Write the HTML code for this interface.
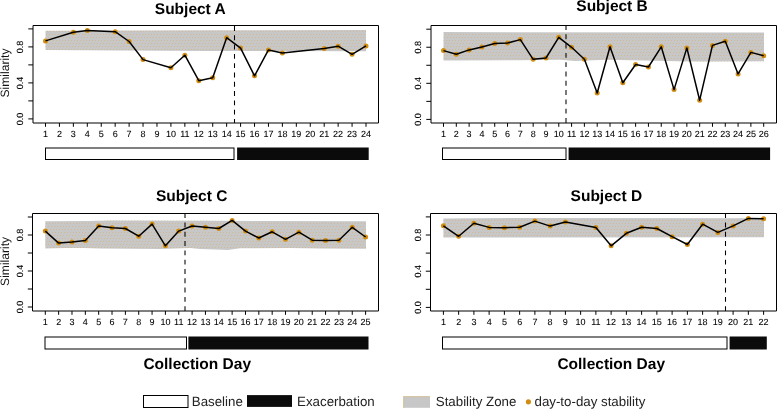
<!DOCTYPE html>
<html><head><meta charset="utf-8"><style>
html,body{margin:0;padding:0;background:#fff;width:777px;height:409px;overflow:hidden}
svg{display:block;will-change:transform}
text{font-family:"Liberation Sans",sans-serif;text-rendering:geometricPrecision}
.tl{font-size:9px;fill:#000;stroke:#000;stroke-width:0.08px}
.tt{font-size:15.5px;font-weight:bold;fill:#000}
.yl{font-size:12.1px;fill:#111}
.lg{font-size:13.3px;fill:#222}
</style></head><body>
<svg width="777" height="409" viewBox="0 0 777 409">
<defs><pattern id="dots" x="0" y="1" width="9" height="9" patternUnits="userSpaceOnUse"><rect x="0" y="0" width="1" height="1" fill="#d6b27c"/><rect x="3" y="0" width="1" height="1" fill="#d6b27c"/><rect x="6" y="0" width="1" height="1" fill="#d6b27c"/><rect x="8" y="3" width="1" height="1" fill="#d6b27c"/><rect x="2" y="3" width="1" height="1" fill="#d6b27c"/><rect x="5" y="3" width="1" height="1" fill="#d6b27c"/><rect x="7" y="6" width="1" height="1" fill="#d6b27c"/><rect x="1" y="6" width="1" height="1" fill="#d6b27c"/><rect x="4" y="6" width="1" height="1" fill="#d6b27c"/></pattern></defs>
<polygon points="45.5,30.8 120,30.6 210,30.2 366,30 366,51.2 210,51 120,50.5 45.5,49.9" fill="#c7c7c7"/>
<polygon points="45.5,30.8 120,30.6 210,30.2 366,30 366,51.2 210,51 120,50.5 45.5,49.9" fill="url(#dots)" opacity="0.7"/>
<path d="M33 25.5H378.5V123" fill="none" stroke="#000" stroke-width="1"/>
<path d="M33 25.5V123H378.5" fill="none" stroke="#000" stroke-width="1"/>
<line x1="28.3" y1="118.9" x2="33" y2="118.9" stroke="#000" stroke-width="1"/>
<line x1="28.3" y1="100.9" x2="33" y2="100.9" stroke="#000" stroke-width="1"/>
<line x1="28.3" y1="82.9" x2="33" y2="82.9" stroke="#000" stroke-width="1"/>
<line x1="28.3" y1="64.9" x2="33" y2="64.9" stroke="#000" stroke-width="1"/>
<line x1="28.3" y1="46.9" x2="33" y2="46.9" stroke="#000" stroke-width="1"/>
<line x1="28.3" y1="28.9" x2="33" y2="28.9" stroke="#000" stroke-width="1"/>
<text transform="translate(22.6,118.9) rotate(-90)" text-anchor="middle" class="tl">0.0</text>
<text transform="translate(22.6,82.9) rotate(-90)" text-anchor="middle" class="tl">0.4</text>
<text transform="translate(22.6,46.9) rotate(-90)" text-anchor="middle" class="tl">0.8</text>
<line x1="45.5" y1="123" x2="45.5" y2="126.8" stroke="#000" stroke-width="1"/>
<text x="45.5" y="137" text-anchor="middle" class="tl">1</text>
<line x1="59.43" y1="123" x2="59.43" y2="126.8" stroke="#000" stroke-width="1"/>
<text x="59.43" y="137" text-anchor="middle" class="tl">2</text>
<line x1="73.37" y1="123" x2="73.37" y2="126.8" stroke="#000" stroke-width="1"/>
<text x="73.37" y="137" text-anchor="middle" class="tl">3</text>
<line x1="87.3" y1="123" x2="87.3" y2="126.8" stroke="#000" stroke-width="1"/>
<text x="87.3" y="137" text-anchor="middle" class="tl">4</text>
<line x1="101.24" y1="123" x2="101.24" y2="126.8" stroke="#000" stroke-width="1"/>
<text x="101.24" y="137" text-anchor="middle" class="tl">5</text>
<line x1="115.17" y1="123" x2="115.17" y2="126.8" stroke="#000" stroke-width="1"/>
<text x="115.17" y="137" text-anchor="middle" class="tl">6</text>
<line x1="129.11" y1="123" x2="129.11" y2="126.8" stroke="#000" stroke-width="1"/>
<text x="129.11" y="137" text-anchor="middle" class="tl">7</text>
<line x1="143.04" y1="123" x2="143.04" y2="126.8" stroke="#000" stroke-width="1"/>
<text x="143.04" y="137" text-anchor="middle" class="tl">8</text>
<line x1="156.98" y1="123" x2="156.98" y2="126.8" stroke="#000" stroke-width="1"/>
<text x="156.98" y="137" text-anchor="middle" class="tl">9</text>
<line x1="170.91" y1="123" x2="170.91" y2="126.8" stroke="#000" stroke-width="1"/>
<text x="170.91" y="137" text-anchor="middle" class="tl">10</text>
<line x1="184.85" y1="123" x2="184.85" y2="126.8" stroke="#000" stroke-width="1"/>
<text x="184.85" y="137" text-anchor="middle" class="tl">11</text>
<line x1="198.78" y1="123" x2="198.78" y2="126.8" stroke="#000" stroke-width="1"/>
<text x="198.78" y="137" text-anchor="middle" class="tl">12</text>
<line x1="212.72" y1="123" x2="212.72" y2="126.8" stroke="#000" stroke-width="1"/>
<text x="212.72" y="137" text-anchor="middle" class="tl">13</text>
<line x1="226.65" y1="123" x2="226.65" y2="126.8" stroke="#000" stroke-width="1"/>
<text x="226.65" y="137" text-anchor="middle" class="tl">14</text>
<line x1="240.59" y1="123" x2="240.59" y2="126.8" stroke="#000" stroke-width="1"/>
<text x="240.59" y="137" text-anchor="middle" class="tl">15</text>
<line x1="254.52" y1="123" x2="254.52" y2="126.8" stroke="#000" stroke-width="1"/>
<text x="254.52" y="137" text-anchor="middle" class="tl">16</text>
<line x1="268.46" y1="123" x2="268.46" y2="126.8" stroke="#000" stroke-width="1"/>
<text x="268.46" y="137" text-anchor="middle" class="tl">17</text>
<line x1="282.39" y1="123" x2="282.39" y2="126.8" stroke="#000" stroke-width="1"/>
<text x="282.39" y="137" text-anchor="middle" class="tl">18</text>
<line x1="296.33" y1="123" x2="296.33" y2="126.8" stroke="#000" stroke-width="1"/>
<text x="296.33" y="137" text-anchor="middle" class="tl">19</text>
<line x1="310.26" y1="123" x2="310.26" y2="126.8" stroke="#000" stroke-width="1"/>
<text x="310.26" y="137" text-anchor="middle" class="tl">20</text>
<line x1="324.2" y1="123" x2="324.2" y2="126.8" stroke="#000" stroke-width="1"/>
<text x="324.2" y="137" text-anchor="middle" class="tl">21</text>
<line x1="338.13" y1="123" x2="338.13" y2="126.8" stroke="#000" stroke-width="1"/>
<text x="338.13" y="137" text-anchor="middle" class="tl">22</text>
<line x1="352.07" y1="123" x2="352.07" y2="126.8" stroke="#000" stroke-width="1"/>
<text x="352.07" y="137" text-anchor="middle" class="tl">23</text>
<line x1="366" y1="123" x2="366" y2="126.8" stroke="#000" stroke-width="1"/>
<text x="366" y="137" text-anchor="middle" class="tl">24</text>
<line x1="234.5" y1="26" x2="234.5" y2="123" stroke="#000" stroke-width="1.05" stroke-dasharray="4.9 4.4"/>
<circle cx="45.5" cy="40.9" r="2.5" fill="#d18d12"/>
<circle cx="73.37" cy="32.3" r="2.5" fill="#d18d12"/>
<circle cx="87.3" cy="30.6" r="2.5" fill="#d18d12"/>
<circle cx="115.17" cy="31.7" r="2.5" fill="#d18d12"/>
<circle cx="129.11" cy="41.5" r="2.5" fill="#d18d12"/>
<circle cx="143.04" cy="59.6" r="2.5" fill="#d18d12"/>
<circle cx="170.91" cy="67.8" r="2.5" fill="#d18d12"/>
<circle cx="184.85" cy="55.2" r="2.5" fill="#d18d12"/>
<circle cx="198.78" cy="80.7" r="2.5" fill="#d18d12"/>
<circle cx="212.72" cy="77.7" r="2.5" fill="#d18d12"/>
<circle cx="226.65" cy="37.7" r="2.5" fill="#d18d12"/>
<circle cx="240.59" cy="48.1" r="2.5" fill="#d18d12"/>
<circle cx="254.52" cy="75.8" r="2.5" fill="#d18d12"/>
<circle cx="268.46" cy="49.9" r="2.5" fill="#d18d12"/>
<circle cx="282.39" cy="53.1" r="2.5" fill="#d18d12"/>
<circle cx="324.2" cy="48.4" r="2.5" fill="#d18d12"/>
<circle cx="338.13" cy="46.2" r="2.5" fill="#d18d12"/>
<circle cx="352.07" cy="54.3" r="2.5" fill="#d18d12"/>
<circle cx="366" cy="45.9" r="2.5" fill="#d18d12"/>
<polyline points="45.5,40.9 73.37,32.3 87.3,30.6 115.17,31.7 129.11,41.5 143.04,59.6 170.91,67.8 184.85,55.2 198.78,80.7 212.72,77.7 226.65,37.7 240.59,48.1 254.52,75.8 268.46,49.9 282.39,53.1 324.2,48.4 338.13,46.2 352.07,54.3 366,45.9" fill="none" stroke="#000" stroke-width="1.5" stroke-linejoin="round"/>
<text x="154.8" y="13.9" class="tt">Subject A</text>
<text transform="translate(9.3,73) rotate(-90)" text-anchor="middle" class="yl">Similarity</text>
<rect x="45.5" y="148" width="188.5" height="11.5" fill="#fff" stroke="#000" stroke-width="1"/>
<rect x="237.1" y="147.5" width="131.6" height="12.5" fill="#0b0b0b"/>
<polygon points="443.5,32.1 764,32.6 764,61.3 705,61.6 680,61.2 606,59.8 575,61 560,59.8 520,60.2 443.5,60.6" fill="#c7c7c7"/>
<polygon points="443.5,32.1 764,32.6 764,61.3 705,61.6 680,61.2 606,59.8 575,61 560,59.8 520,60.2 443.5,60.6" fill="url(#dots)" opacity="0.7"/>
<path d="M431 25.5H776.5V123" fill="none" stroke="#000" stroke-width="1"/>
<path d="M431 25.5V123H776.5" fill="none" stroke="#000" stroke-width="1"/>
<line x1="426.3" y1="119.4" x2="431" y2="119.4" stroke="#000" stroke-width="1"/>
<line x1="426.3" y1="101.36" x2="431" y2="101.36" stroke="#000" stroke-width="1"/>
<line x1="426.3" y1="83.32" x2="431" y2="83.32" stroke="#000" stroke-width="1"/>
<line x1="426.3" y1="65.28" x2="431" y2="65.28" stroke="#000" stroke-width="1"/>
<line x1="426.3" y1="47.24" x2="431" y2="47.24" stroke="#000" stroke-width="1"/>
<line x1="426.3" y1="29.2" x2="431" y2="29.2" stroke="#000" stroke-width="1"/>
<text transform="translate(421.2,119.4) rotate(-90)" text-anchor="middle" class="tl">0.0</text>
<text transform="translate(421.2,83.32) rotate(-90)" text-anchor="middle" class="tl">0.4</text>
<text transform="translate(421.2,47.24) rotate(-90)" text-anchor="middle" class="tl">0.8</text>
<line x1="443.5" y1="123" x2="443.5" y2="126.8" stroke="#000" stroke-width="1"/>
<text x="443.5" y="137" text-anchor="middle" class="tl">1</text>
<line x1="456.31" y1="123" x2="456.31" y2="126.8" stroke="#000" stroke-width="1"/>
<text x="456.31" y="137" text-anchor="middle" class="tl">2</text>
<line x1="469.12" y1="123" x2="469.12" y2="126.8" stroke="#000" stroke-width="1"/>
<text x="469.12" y="137" text-anchor="middle" class="tl">3</text>
<line x1="481.92" y1="123" x2="481.92" y2="126.8" stroke="#000" stroke-width="1"/>
<text x="481.92" y="137" text-anchor="middle" class="tl">4</text>
<line x1="494.73" y1="123" x2="494.73" y2="126.8" stroke="#000" stroke-width="1"/>
<text x="494.73" y="137" text-anchor="middle" class="tl">5</text>
<line x1="507.54" y1="123" x2="507.54" y2="126.8" stroke="#000" stroke-width="1"/>
<text x="507.54" y="137" text-anchor="middle" class="tl">6</text>
<line x1="520.35" y1="123" x2="520.35" y2="126.8" stroke="#000" stroke-width="1"/>
<text x="520.35" y="137" text-anchor="middle" class="tl">7</text>
<line x1="533.16" y1="123" x2="533.16" y2="126.8" stroke="#000" stroke-width="1"/>
<text x="533.16" y="137" text-anchor="middle" class="tl">8</text>
<line x1="545.96" y1="123" x2="545.96" y2="126.8" stroke="#000" stroke-width="1"/>
<text x="545.96" y="137" text-anchor="middle" class="tl">9</text>
<line x1="558.77" y1="123" x2="558.77" y2="126.8" stroke="#000" stroke-width="1"/>
<text x="558.77" y="137" text-anchor="middle" class="tl">10</text>
<line x1="571.58" y1="123" x2="571.58" y2="126.8" stroke="#000" stroke-width="1"/>
<text x="571.58" y="137" text-anchor="middle" class="tl">11</text>
<line x1="584.39" y1="123" x2="584.39" y2="126.8" stroke="#000" stroke-width="1"/>
<text x="584.39" y="137" text-anchor="middle" class="tl">12</text>
<line x1="597.2" y1="123" x2="597.2" y2="126.8" stroke="#000" stroke-width="1"/>
<text x="597.2" y="137" text-anchor="middle" class="tl">13</text>
<line x1="610" y1="123" x2="610" y2="126.8" stroke="#000" stroke-width="1"/>
<text x="610" y="137" text-anchor="middle" class="tl">14</text>
<line x1="622.81" y1="123" x2="622.81" y2="126.8" stroke="#000" stroke-width="1"/>
<text x="622.81" y="137" text-anchor="middle" class="tl">15</text>
<line x1="635.62" y1="123" x2="635.62" y2="126.8" stroke="#000" stroke-width="1"/>
<text x="635.62" y="137" text-anchor="middle" class="tl">16</text>
<line x1="648.43" y1="123" x2="648.43" y2="126.8" stroke="#000" stroke-width="1"/>
<text x="648.43" y="137" text-anchor="middle" class="tl">17</text>
<line x1="661.24" y1="123" x2="661.24" y2="126.8" stroke="#000" stroke-width="1"/>
<text x="661.24" y="137" text-anchor="middle" class="tl">18</text>
<line x1="674.04" y1="123" x2="674.04" y2="126.8" stroke="#000" stroke-width="1"/>
<text x="674.04" y="137" text-anchor="middle" class="tl">19</text>
<line x1="686.85" y1="123" x2="686.85" y2="126.8" stroke="#000" stroke-width="1"/>
<text x="686.85" y="137" text-anchor="middle" class="tl">20</text>
<line x1="699.66" y1="123" x2="699.66" y2="126.8" stroke="#000" stroke-width="1"/>
<text x="699.66" y="137" text-anchor="middle" class="tl">21</text>
<line x1="712.47" y1="123" x2="712.47" y2="126.8" stroke="#000" stroke-width="1"/>
<text x="712.47" y="137" text-anchor="middle" class="tl">22</text>
<line x1="725.28" y1="123" x2="725.28" y2="126.8" stroke="#000" stroke-width="1"/>
<text x="725.28" y="137" text-anchor="middle" class="tl">23</text>
<line x1="738.08" y1="123" x2="738.08" y2="126.8" stroke="#000" stroke-width="1"/>
<text x="738.08" y="137" text-anchor="middle" class="tl">24</text>
<line x1="750.89" y1="123" x2="750.89" y2="126.8" stroke="#000" stroke-width="1"/>
<text x="750.89" y="137" text-anchor="middle" class="tl">25</text>
<line x1="763.7" y1="123" x2="763.7" y2="126.8" stroke="#000" stroke-width="1"/>
<text x="763.7" y="137" text-anchor="middle" class="tl">26</text>
<line x1="566" y1="25" x2="566" y2="123" stroke="#000" stroke-width="1.05" stroke-dasharray="4.9 4.4"/>
<circle cx="443.5" cy="50.6" r="2.5" fill="#d18d12"/>
<circle cx="456.31" cy="54.3" r="2.5" fill="#d18d12"/>
<circle cx="469.12" cy="49.9" r="2.5" fill="#d18d12"/>
<circle cx="481.92" cy="46.9" r="2.5" fill="#d18d12"/>
<circle cx="494.73" cy="43.6" r="2.5" fill="#d18d12"/>
<circle cx="507.54" cy="43" r="2.5" fill="#d18d12"/>
<circle cx="520.35" cy="39.6" r="2.5" fill="#d18d12"/>
<circle cx="533.16" cy="59.3" r="2.5" fill="#d18d12"/>
<circle cx="545.96" cy="58" r="2.5" fill="#d18d12"/>
<circle cx="558.77" cy="37.3" r="2.5" fill="#d18d12"/>
<circle cx="571.58" cy="47.3" r="2.5" fill="#d18d12"/>
<circle cx="584.39" cy="59.2" r="2.5" fill="#d18d12"/>
<circle cx="597.2" cy="93" r="2.5" fill="#d18d12"/>
<circle cx="610" cy="46.8" r="2.5" fill="#d18d12"/>
<circle cx="622.81" cy="82.8" r="2.5" fill="#d18d12"/>
<circle cx="635.62" cy="64.5" r="2.5" fill="#d18d12"/>
<circle cx="648.43" cy="67" r="2.5" fill="#d18d12"/>
<circle cx="661.24" cy="46.8" r="2.5" fill="#d18d12"/>
<circle cx="674.04" cy="89.6" r="2.5" fill="#d18d12"/>
<circle cx="686.85" cy="47.9" r="2.5" fill="#d18d12"/>
<circle cx="699.66" cy="100.2" r="2.5" fill="#d18d12"/>
<circle cx="712.47" cy="45.4" r="2.5" fill="#d18d12"/>
<circle cx="725.28" cy="41.2" r="2.5" fill="#d18d12"/>
<circle cx="738.08" cy="73.9" r="2.5" fill="#d18d12"/>
<circle cx="750.89" cy="52.4" r="2.5" fill="#d18d12"/>
<circle cx="763.7" cy="55.8" r="2.5" fill="#d18d12"/>
<polyline points="443.5,50.6 456.31,54.3 469.12,49.9 481.92,46.9 494.73,43.6 507.54,43 520.35,39.6 533.16,59.3 545.96,58 558.77,37.3 571.58,47.3 584.39,59.2 597.2,93 610,46.8 622.81,82.8 635.62,64.5 648.43,67 661.24,46.8 674.04,89.6 686.85,47.9 699.66,100.2 712.47,45.4 725.28,41.2 738.08,73.9 750.89,52.4 763.7,55.8" fill="none" stroke="#000" stroke-width="1.5" stroke-linejoin="round"/>
<text x="576.3" y="11.1" class="tt">Subject B</text>
<rect x="442.5" y="148" width="123.5" height="11.5" fill="#fff" stroke="#000" stroke-width="1"/>
<rect x="568.6" y="147.5" width="201.5" height="12.5" fill="#0b0b0b"/>
<polygon points="45.3,221.2 90,221 110,220.6 210,220.8 366,221.2 366,248.8 320,248.6 290,247.9 240,248.3 228,249.9 215,249.4 200,249 190,247.9 175,248.4 160,248.9 100,248.4 84,248 65,248 45.3,248.5" fill="#c7c7c7"/>
<polygon points="45.3,221.2 90,221 110,220.6 210,220.8 366,221.2 366,248.8 320,248.6 290,247.9 240,248.3 228,249.9 215,249.4 200,249 190,247.9 175,248.4 160,248.9 100,248.4 84,248 65,248 45.3,248.5" fill="url(#dots)" opacity="0.7"/>
<path d="M32.5 213.5H378.5V311" fill="none" stroke="#000" stroke-width="1"/>
<path d="M32.5 213.5V311H378.5" fill="none" stroke="#000" stroke-width="1"/>
<line x1="27.8" y1="307" x2="32.5" y2="307" stroke="#000" stroke-width="1"/>
<line x1="27.8" y1="289" x2="32.5" y2="289" stroke="#000" stroke-width="1"/>
<line x1="27.8" y1="271" x2="32.5" y2="271" stroke="#000" stroke-width="1"/>
<line x1="27.8" y1="253" x2="32.5" y2="253" stroke="#000" stroke-width="1"/>
<line x1="27.8" y1="235" x2="32.5" y2="235" stroke="#000" stroke-width="1"/>
<line x1="27.8" y1="217" x2="32.5" y2="217" stroke="#000" stroke-width="1"/>
<text transform="translate(22.6,307) rotate(-90)" text-anchor="middle" class="tl">0.0</text>
<text transform="translate(22.6,271) rotate(-90)" text-anchor="middle" class="tl">0.4</text>
<text transform="translate(22.6,235) rotate(-90)" text-anchor="middle" class="tl">0.8</text>
<line x1="45.3" y1="311" x2="45.3" y2="314.8" stroke="#000" stroke-width="1"/>
<text x="45.3" y="325" text-anchor="middle" class="tl">1</text>
<line x1="58.65" y1="311" x2="58.65" y2="314.8" stroke="#000" stroke-width="1"/>
<text x="58.65" y="325" text-anchor="middle" class="tl">2</text>
<line x1="71.99" y1="311" x2="71.99" y2="314.8" stroke="#000" stroke-width="1"/>
<text x="71.99" y="325" text-anchor="middle" class="tl">3</text>
<line x1="85.34" y1="311" x2="85.34" y2="314.8" stroke="#000" stroke-width="1"/>
<text x="85.34" y="325" text-anchor="middle" class="tl">4</text>
<line x1="98.68" y1="311" x2="98.68" y2="314.8" stroke="#000" stroke-width="1"/>
<text x="98.68" y="325" text-anchor="middle" class="tl">5</text>
<line x1="112.03" y1="311" x2="112.03" y2="314.8" stroke="#000" stroke-width="1"/>
<text x="112.03" y="325" text-anchor="middle" class="tl">6</text>
<line x1="125.38" y1="311" x2="125.38" y2="314.8" stroke="#000" stroke-width="1"/>
<text x="125.38" y="325" text-anchor="middle" class="tl">7</text>
<line x1="138.72" y1="311" x2="138.72" y2="314.8" stroke="#000" stroke-width="1"/>
<text x="138.72" y="325" text-anchor="middle" class="tl">8</text>
<line x1="152.07" y1="311" x2="152.07" y2="314.8" stroke="#000" stroke-width="1"/>
<text x="152.07" y="325" text-anchor="middle" class="tl">9</text>
<line x1="165.41" y1="311" x2="165.41" y2="314.8" stroke="#000" stroke-width="1"/>
<text x="165.41" y="325" text-anchor="middle" class="tl">10</text>
<line x1="178.76" y1="311" x2="178.76" y2="314.8" stroke="#000" stroke-width="1"/>
<text x="178.76" y="325" text-anchor="middle" class="tl">11</text>
<line x1="192.1" y1="311" x2="192.1" y2="314.8" stroke="#000" stroke-width="1"/>
<text x="192.1" y="325" text-anchor="middle" class="tl">12</text>
<line x1="205.45" y1="311" x2="205.45" y2="314.8" stroke="#000" stroke-width="1"/>
<text x="205.45" y="325" text-anchor="middle" class="tl">13</text>
<line x1="218.8" y1="311" x2="218.8" y2="314.8" stroke="#000" stroke-width="1"/>
<text x="218.8" y="325" text-anchor="middle" class="tl">14</text>
<line x1="232.14" y1="311" x2="232.14" y2="314.8" stroke="#000" stroke-width="1"/>
<text x="232.14" y="325" text-anchor="middle" class="tl">15</text>
<line x1="245.49" y1="311" x2="245.49" y2="314.8" stroke="#000" stroke-width="1"/>
<text x="245.49" y="325" text-anchor="middle" class="tl">16</text>
<line x1="258.83" y1="311" x2="258.83" y2="314.8" stroke="#000" stroke-width="1"/>
<text x="258.83" y="325" text-anchor="middle" class="tl">17</text>
<line x1="272.18" y1="311" x2="272.18" y2="314.8" stroke="#000" stroke-width="1"/>
<text x="272.18" y="325" text-anchor="middle" class="tl">18</text>
<line x1="285.52" y1="311" x2="285.52" y2="314.8" stroke="#000" stroke-width="1"/>
<text x="285.52" y="325" text-anchor="middle" class="tl">19</text>
<line x1="298.87" y1="311" x2="298.87" y2="314.8" stroke="#000" stroke-width="1"/>
<text x="298.87" y="325" text-anchor="middle" class="tl">20</text>
<line x1="312.22" y1="311" x2="312.22" y2="314.8" stroke="#000" stroke-width="1"/>
<text x="312.22" y="325" text-anchor="middle" class="tl">21</text>
<line x1="325.56" y1="311" x2="325.56" y2="314.8" stroke="#000" stroke-width="1"/>
<text x="325.56" y="325" text-anchor="middle" class="tl">22</text>
<line x1="338.91" y1="311" x2="338.91" y2="314.8" stroke="#000" stroke-width="1"/>
<text x="338.91" y="325" text-anchor="middle" class="tl">23</text>
<line x1="352.25" y1="311" x2="352.25" y2="314.8" stroke="#000" stroke-width="1"/>
<text x="352.25" y="325" text-anchor="middle" class="tl">24</text>
<line x1="365.6" y1="311" x2="365.6" y2="314.8" stroke="#000" stroke-width="1"/>
<text x="365.6" y="325" text-anchor="middle" class="tl">25</text>
<line x1="185" y1="213.2" x2="185" y2="311" stroke="#000" stroke-width="1.05" stroke-dasharray="4.9 4.4"/>
<circle cx="45.3" cy="231.1" r="2.5" fill="#d18d12"/>
<circle cx="58.65" cy="243.1" r="2.5" fill="#d18d12"/>
<circle cx="71.99" cy="242" r="2.5" fill="#d18d12"/>
<circle cx="85.34" cy="240.5" r="2.5" fill="#d18d12"/>
<circle cx="98.68" cy="226" r="2.5" fill="#d18d12"/>
<circle cx="112.03" cy="227.7" r="2.5" fill="#d18d12"/>
<circle cx="125.38" cy="228.5" r="2.5" fill="#d18d12"/>
<circle cx="138.72" cy="236.2" r="2.5" fill="#d18d12"/>
<circle cx="152.07" cy="224.1" r="2.5" fill="#d18d12"/>
<circle cx="165.41" cy="245.8" r="2.5" fill="#d18d12"/>
<circle cx="178.76" cy="231.1" r="2.5" fill="#d18d12"/>
<circle cx="192.1" cy="226" r="2.5" fill="#d18d12"/>
<circle cx="205.45" cy="227.3" r="2.5" fill="#d18d12"/>
<circle cx="218.8" cy="228.5" r="2.5" fill="#d18d12"/>
<circle cx="232.14" cy="220.4" r="2.5" fill="#d18d12"/>
<circle cx="245.49" cy="231.1" r="2.5" fill="#d18d12"/>
<circle cx="258.83" cy="238" r="2.5" fill="#d18d12"/>
<circle cx="272.18" cy="231.8" r="2.5" fill="#d18d12"/>
<circle cx="285.52" cy="239.3" r="2.5" fill="#d18d12"/>
<circle cx="298.87" cy="232.2" r="2.5" fill="#d18d12"/>
<circle cx="312.22" cy="240.2" r="2.5" fill="#d18d12"/>
<circle cx="325.56" cy="240.6" r="2.5" fill="#d18d12"/>
<circle cx="338.91" cy="240.2" r="2.5" fill="#d18d12"/>
<circle cx="352.25" cy="227.3" r="2.5" fill="#d18d12"/>
<circle cx="365.6" cy="237" r="2.5" fill="#d18d12"/>
<polyline points="45.3,231.1 58.65,243.1 71.99,242 85.34,240.5 98.68,226 112.03,227.7 125.38,228.5 138.72,236.2 152.07,224.1 165.41,245.8 178.76,231.1 192.1,226 205.45,227.3 218.8,228.5 232.14,220.4 245.49,231.1 258.83,238 272.18,231.8 285.52,239.3 298.87,232.2 312.22,240.2 325.56,240.6 338.91,240.2 352.25,227.3 365.6,237" fill="none" stroke="#000" stroke-width="1.5" stroke-linejoin="round"/>
<text x="155.9" y="200.7" class="tt">Subject C</text>
<text transform="translate(9.3,261.4) rotate(-90)" text-anchor="middle" class="yl">Similarity</text>
<rect x="45" y="337" width="141.5" height="12" fill="#fff" stroke="#000" stroke-width="1"/>
<rect x="188.4" y="336.5" width="180.1" height="13" fill="#0b0b0b"/>
<text x="143.4" y="368.5" class="tt">Collection Day</text>
<polygon points="443.4,218.4 520,218 764,218.3 764,237.2 443.4,237.5" fill="#c7c7c7"/>
<polygon points="443.4,218.4 520,218 764,218.3 764,237.2 443.4,237.5" fill="url(#dots)" opacity="0.7"/>
<path d="M430.5 213.5H776.5V311" fill="none" stroke="#000" stroke-width="1"/>
<path d="M430.5 213.5V311H776.5" fill="none" stroke="#000" stroke-width="1"/>
<line x1="425.8" y1="307.4" x2="430.5" y2="307.4" stroke="#000" stroke-width="1"/>
<line x1="425.8" y1="289.3" x2="430.5" y2="289.3" stroke="#000" stroke-width="1"/>
<line x1="425.8" y1="271.2" x2="430.5" y2="271.2" stroke="#000" stroke-width="1"/>
<line x1="425.8" y1="253.1" x2="430.5" y2="253.1" stroke="#000" stroke-width="1"/>
<line x1="425.8" y1="235" x2="430.5" y2="235" stroke="#000" stroke-width="1"/>
<line x1="425.8" y1="216.9" x2="430.5" y2="216.9" stroke="#000" stroke-width="1"/>
<text transform="translate(420.6,307.4) rotate(-90)" text-anchor="middle" class="tl">0.0</text>
<text transform="translate(420.6,271.2) rotate(-90)" text-anchor="middle" class="tl">0.4</text>
<text transform="translate(420.6,235) rotate(-90)" text-anchor="middle" class="tl">0.8</text>
<line x1="443.4" y1="311" x2="443.4" y2="314.8" stroke="#000" stroke-width="1"/>
<text x="443.4" y="325" text-anchor="middle" class="tl">1</text>
<line x1="458.65" y1="311" x2="458.65" y2="314.8" stroke="#000" stroke-width="1"/>
<text x="458.65" y="325" text-anchor="middle" class="tl">2</text>
<line x1="473.9" y1="311" x2="473.9" y2="314.8" stroke="#000" stroke-width="1"/>
<text x="473.9" y="325" text-anchor="middle" class="tl">3</text>
<line x1="489.14" y1="311" x2="489.14" y2="314.8" stroke="#000" stroke-width="1"/>
<text x="489.14" y="325" text-anchor="middle" class="tl">4</text>
<line x1="504.39" y1="311" x2="504.39" y2="314.8" stroke="#000" stroke-width="1"/>
<text x="504.39" y="325" text-anchor="middle" class="tl">5</text>
<line x1="519.64" y1="311" x2="519.64" y2="314.8" stroke="#000" stroke-width="1"/>
<text x="519.64" y="325" text-anchor="middle" class="tl">6</text>
<line x1="534.89" y1="311" x2="534.89" y2="314.8" stroke="#000" stroke-width="1"/>
<text x="534.89" y="325" text-anchor="middle" class="tl">7</text>
<line x1="550.13" y1="311" x2="550.13" y2="314.8" stroke="#000" stroke-width="1"/>
<text x="550.13" y="325" text-anchor="middle" class="tl">8</text>
<line x1="565.38" y1="311" x2="565.38" y2="314.8" stroke="#000" stroke-width="1"/>
<text x="565.38" y="325" text-anchor="middle" class="tl">9</text>
<line x1="580.63" y1="311" x2="580.63" y2="314.8" stroke="#000" stroke-width="1"/>
<text x="580.63" y="325" text-anchor="middle" class="tl">10</text>
<line x1="595.88" y1="311" x2="595.88" y2="314.8" stroke="#000" stroke-width="1"/>
<text x="595.88" y="325" text-anchor="middle" class="tl">11</text>
<line x1="611.12" y1="311" x2="611.12" y2="314.8" stroke="#000" stroke-width="1"/>
<text x="611.12" y="325" text-anchor="middle" class="tl">12</text>
<line x1="626.37" y1="311" x2="626.37" y2="314.8" stroke="#000" stroke-width="1"/>
<text x="626.37" y="325" text-anchor="middle" class="tl">13</text>
<line x1="641.62" y1="311" x2="641.62" y2="314.8" stroke="#000" stroke-width="1"/>
<text x="641.62" y="325" text-anchor="middle" class="tl">14</text>
<line x1="656.87" y1="311" x2="656.87" y2="314.8" stroke="#000" stroke-width="1"/>
<text x="656.87" y="325" text-anchor="middle" class="tl">15</text>
<line x1="672.11" y1="311" x2="672.11" y2="314.8" stroke="#000" stroke-width="1"/>
<text x="672.11" y="325" text-anchor="middle" class="tl">16</text>
<line x1="687.36" y1="311" x2="687.36" y2="314.8" stroke="#000" stroke-width="1"/>
<text x="687.36" y="325" text-anchor="middle" class="tl">17</text>
<line x1="702.61" y1="311" x2="702.61" y2="314.8" stroke="#000" stroke-width="1"/>
<text x="702.61" y="325" text-anchor="middle" class="tl">18</text>
<line x1="717.86" y1="311" x2="717.86" y2="314.8" stroke="#000" stroke-width="1"/>
<text x="717.86" y="325" text-anchor="middle" class="tl">19</text>
<line x1="733.1" y1="311" x2="733.1" y2="314.8" stroke="#000" stroke-width="1"/>
<text x="733.1" y="325" text-anchor="middle" class="tl">20</text>
<line x1="748.35" y1="311" x2="748.35" y2="314.8" stroke="#000" stroke-width="1"/>
<text x="748.35" y="325" text-anchor="middle" class="tl">21</text>
<line x1="763.6" y1="311" x2="763.6" y2="314.8" stroke="#000" stroke-width="1"/>
<text x="763.6" y="325" text-anchor="middle" class="tl">22</text>
<line x1="725.5" y1="213.2" x2="725.5" y2="311" stroke="#000" stroke-width="1.05" stroke-dasharray="4.9 4.4"/>
<circle cx="443.4" cy="225.8" r="2.5" fill="#d18d12"/>
<circle cx="458.65" cy="236.3" r="2.5" fill="#d18d12"/>
<circle cx="473.9" cy="223.2" r="2.5" fill="#d18d12"/>
<circle cx="489.14" cy="227.4" r="2.5" fill="#d18d12"/>
<circle cx="504.39" cy="227.7" r="2.5" fill="#d18d12"/>
<circle cx="519.64" cy="227.2" r="2.5" fill="#d18d12"/>
<circle cx="534.89" cy="221.1" r="2.5" fill="#d18d12"/>
<circle cx="550.13" cy="226.1" r="2.5" fill="#d18d12"/>
<circle cx="565.38" cy="222.1" r="2.5" fill="#d18d12"/>
<circle cx="595.88" cy="227.4" r="2.5" fill="#d18d12"/>
<circle cx="611.12" cy="245.8" r="2.5" fill="#d18d12"/>
<circle cx="626.37" cy="233.3" r="2.5" fill="#d18d12"/>
<circle cx="641.62" cy="227.3" r="2.5" fill="#d18d12"/>
<circle cx="656.87" cy="228.5" r="2.5" fill="#d18d12"/>
<circle cx="672.11" cy="236.7" r="2.5" fill="#d18d12"/>
<circle cx="687.36" cy="244.5" r="2.5" fill="#d18d12"/>
<circle cx="702.61" cy="224.2" r="2.5" fill="#d18d12"/>
<circle cx="717.86" cy="232.4" r="2.5" fill="#d18d12"/>
<circle cx="733.1" cy="225.9" r="2.5" fill="#d18d12"/>
<circle cx="748.35" cy="218.4" r="2.5" fill="#d18d12"/>
<circle cx="763.6" cy="218.7" r="2.5" fill="#d18d12"/>
<polyline points="443.4,225.8 458.65,236.3 473.9,223.2 489.14,227.4 504.39,227.7 519.64,227.2 534.89,221.1 550.13,226.1 565.38,222.1 595.88,227.4 611.12,245.8 626.37,233.3 641.62,227.3 656.87,228.5 672.11,236.7 687.36,244.5 702.61,224.2 717.86,232.4 733.1,225.9 748.35,218.4 763.6,218.7" fill="none" stroke="#000" stroke-width="1.5" stroke-linejoin="round"/>
<text x="570.6" y="200.6" class="tt">Subject D</text>
<rect x="442.5" y="337" width="284.5" height="12" fill="#fff" stroke="#000" stroke-width="1"/>
<rect x="729.6" y="336.5" width="37.2" height="13" fill="#0b0b0b"/>
<text x="557.4" y="368.5" class="tt">Collection Day</text>
<rect x="143.5" y="395.5" width="44.5" height="12" fill="#fff" stroke="#000" stroke-width="1"/>
<text x="191.8" y="405.5" class="lg">Baseline</text>
<rect x="247" y="395.1" width="45" height="11.8" fill="#0b0b0b"/>
<text x="297.1" y="405.7" class="lg">Exacerbation</text>
<rect x="403.2" y="396.2" width="26.8" height="11.6" fill="#c7c7c7"/>
<path d="M403.7 407.8V396.7H430" fill="none" stroke="#d8c08c" stroke-width="1" opacity="0.8"/>
<text x="435.8" y="406" class="lg">Stability Zone</text>
<circle cx="528.4" cy="401.8" r="2.6" fill="#d18d12"/>
<text x="534.5" y="406" class="lg">day-to-day stability</text>
</svg></body></html>
